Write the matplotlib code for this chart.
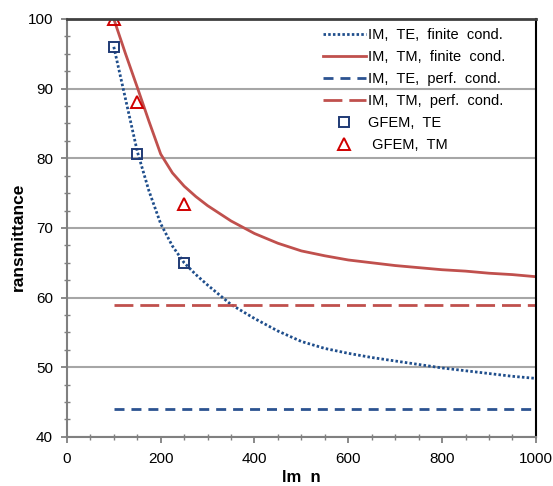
import matplotlib.pyplot as plt
from matplotlib.ticker import MultipleLocator

plt.rcParams['font.family'] = ['Liberation Sans', 'DejaVu Sans']

# film thickness samples for the integral-method curves
thickness = [100, 125, 150, 175, 200, 225, 250, 275, 300, 350, 400, 450, 500,
             550, 600, 650, 700, 750, 800, 850, 900, 950, 1000]
im_te_finite = [96.0, 88.5, 81.0, 75.3, 70.6, 67.4, 65.0, 63.3, 61.8, 59.0, 57.0, 55.2, 53.7,
                52.7, 52.0, 51.4, 50.9, 50.4, 49.9, 49.5, 49.1, 48.7, 48.4]
im_tm_finite = [100.0, 95.0, 90.2, 85.3, 80.6, 77.9, 76.0, 74.5, 73.2, 71.0, 69.2, 67.8, 66.7,
                66.0, 65.4, 65.0, 64.6, 64.3, 64.0, 63.8, 63.5, 63.3, 63.0]

perf_x = [100, 1000]
im_te_perf = [44.0, 44.0]
im_tm_perf = [59.0, 59.0]

gfem_x = [100, 150, 250]
gfem_te = [96.0, 80.6, 65.0]
gfem_tm = [100.0, 88.1, 73.5]

fig = plt.figure(figsize=(5.53, 4.86), dpi=100)
ax = fig.add_axes([0.121, 0.101, 0.848, 0.860])

ax.plot(thickness, im_te_finite, color='#1F4E8C', lw=2.0, linestyle=(0, (0.9, 0.8)),
        dash_capstyle='butt', label='IM,  TE,  finite  cond.')
ax.plot(thickness, im_tm_finite, color='#C0504D', lw=2.0, label='IM,  TM,  finite  cond.')
ax.plot(perf_x, im_te_perf, color='#2C5391', lw=2.0, linestyle=(0, (3.6, 2.5)),
        label='IM,  TE,  perf.  cond.')
ax.plot(perf_x, im_tm_perf, color='#C0504D', lw=2.0, linestyle=(0, (6.8, 2.5)),
        label='IM,  TM,  perf.  cond.')
ax.plot(gfem_x, gfem_te, linestyle='none', marker='s', markersize=7.5, markerfacecolor='none',
        markeredgecolor='#1F3A75', markeredgewidth=1.4, label='GFEM,  TE')
ax.plot(gfem_x, gfem_tm, linestyle='none', marker='^', markersize=8, markerfacecolor='none',
        markeredgecolor='#D00000', markeredgewidth=1.4, label=' GFEM,  TM')

ax.set_xlim(0, 1000)
ax.set_ylim(40, 100)
ax.xaxis.set_major_locator(MultipleLocator(200))
ax.xaxis.set_minor_locator(MultipleLocator(50))
ax.yaxis.set_major_locator(MultipleLocator(10))
ax.yaxis.set_minor_locator(MultipleLocator(2.5))
ax.grid(axis='y', which='major', color='#A6A6A6', lw=1.5)
ax.set_axisbelow(True)

ax.tick_params(which='both', color='#808080', labelsize=11)
ax.tick_params(which='major', direction='out', length=4, width=1.3, pad=6)
ax.tick_params(which='minor', direction='inout', length=4, width=1.0)
ax.tick_params(axis='x', pad=7)

for side in ['left', 'bottom']:
    ax.spines[side].set_color('#808080')
    ax.spines[side].set_linewidth(1.5)
ax.spines['top'].set_color('#404040')
ax.spines['top'].set_linewidth(2)
ax.spines['right'].set_color('black')
ax.spines['right'].set_linewidth(1.5)

ax.set_xlabel('lm  n', fontsize=12, fontweight='bold', labelpad=3)
ax.set_ylabel('ransmittance', fontsize=12.5, fontweight='bold')
ax.yaxis.set_label_coords(-0.087, 0.478)

ax.legend(loc='upper right', bbox_to_anchor=(0.953, 1.0), frameon=False, fontsize=10.5,
          handlelength=3.0, handletextpad=0.1, labelspacing=0.55, borderaxespad=0.2)

fig.savefig('out.png', dpi=100)
